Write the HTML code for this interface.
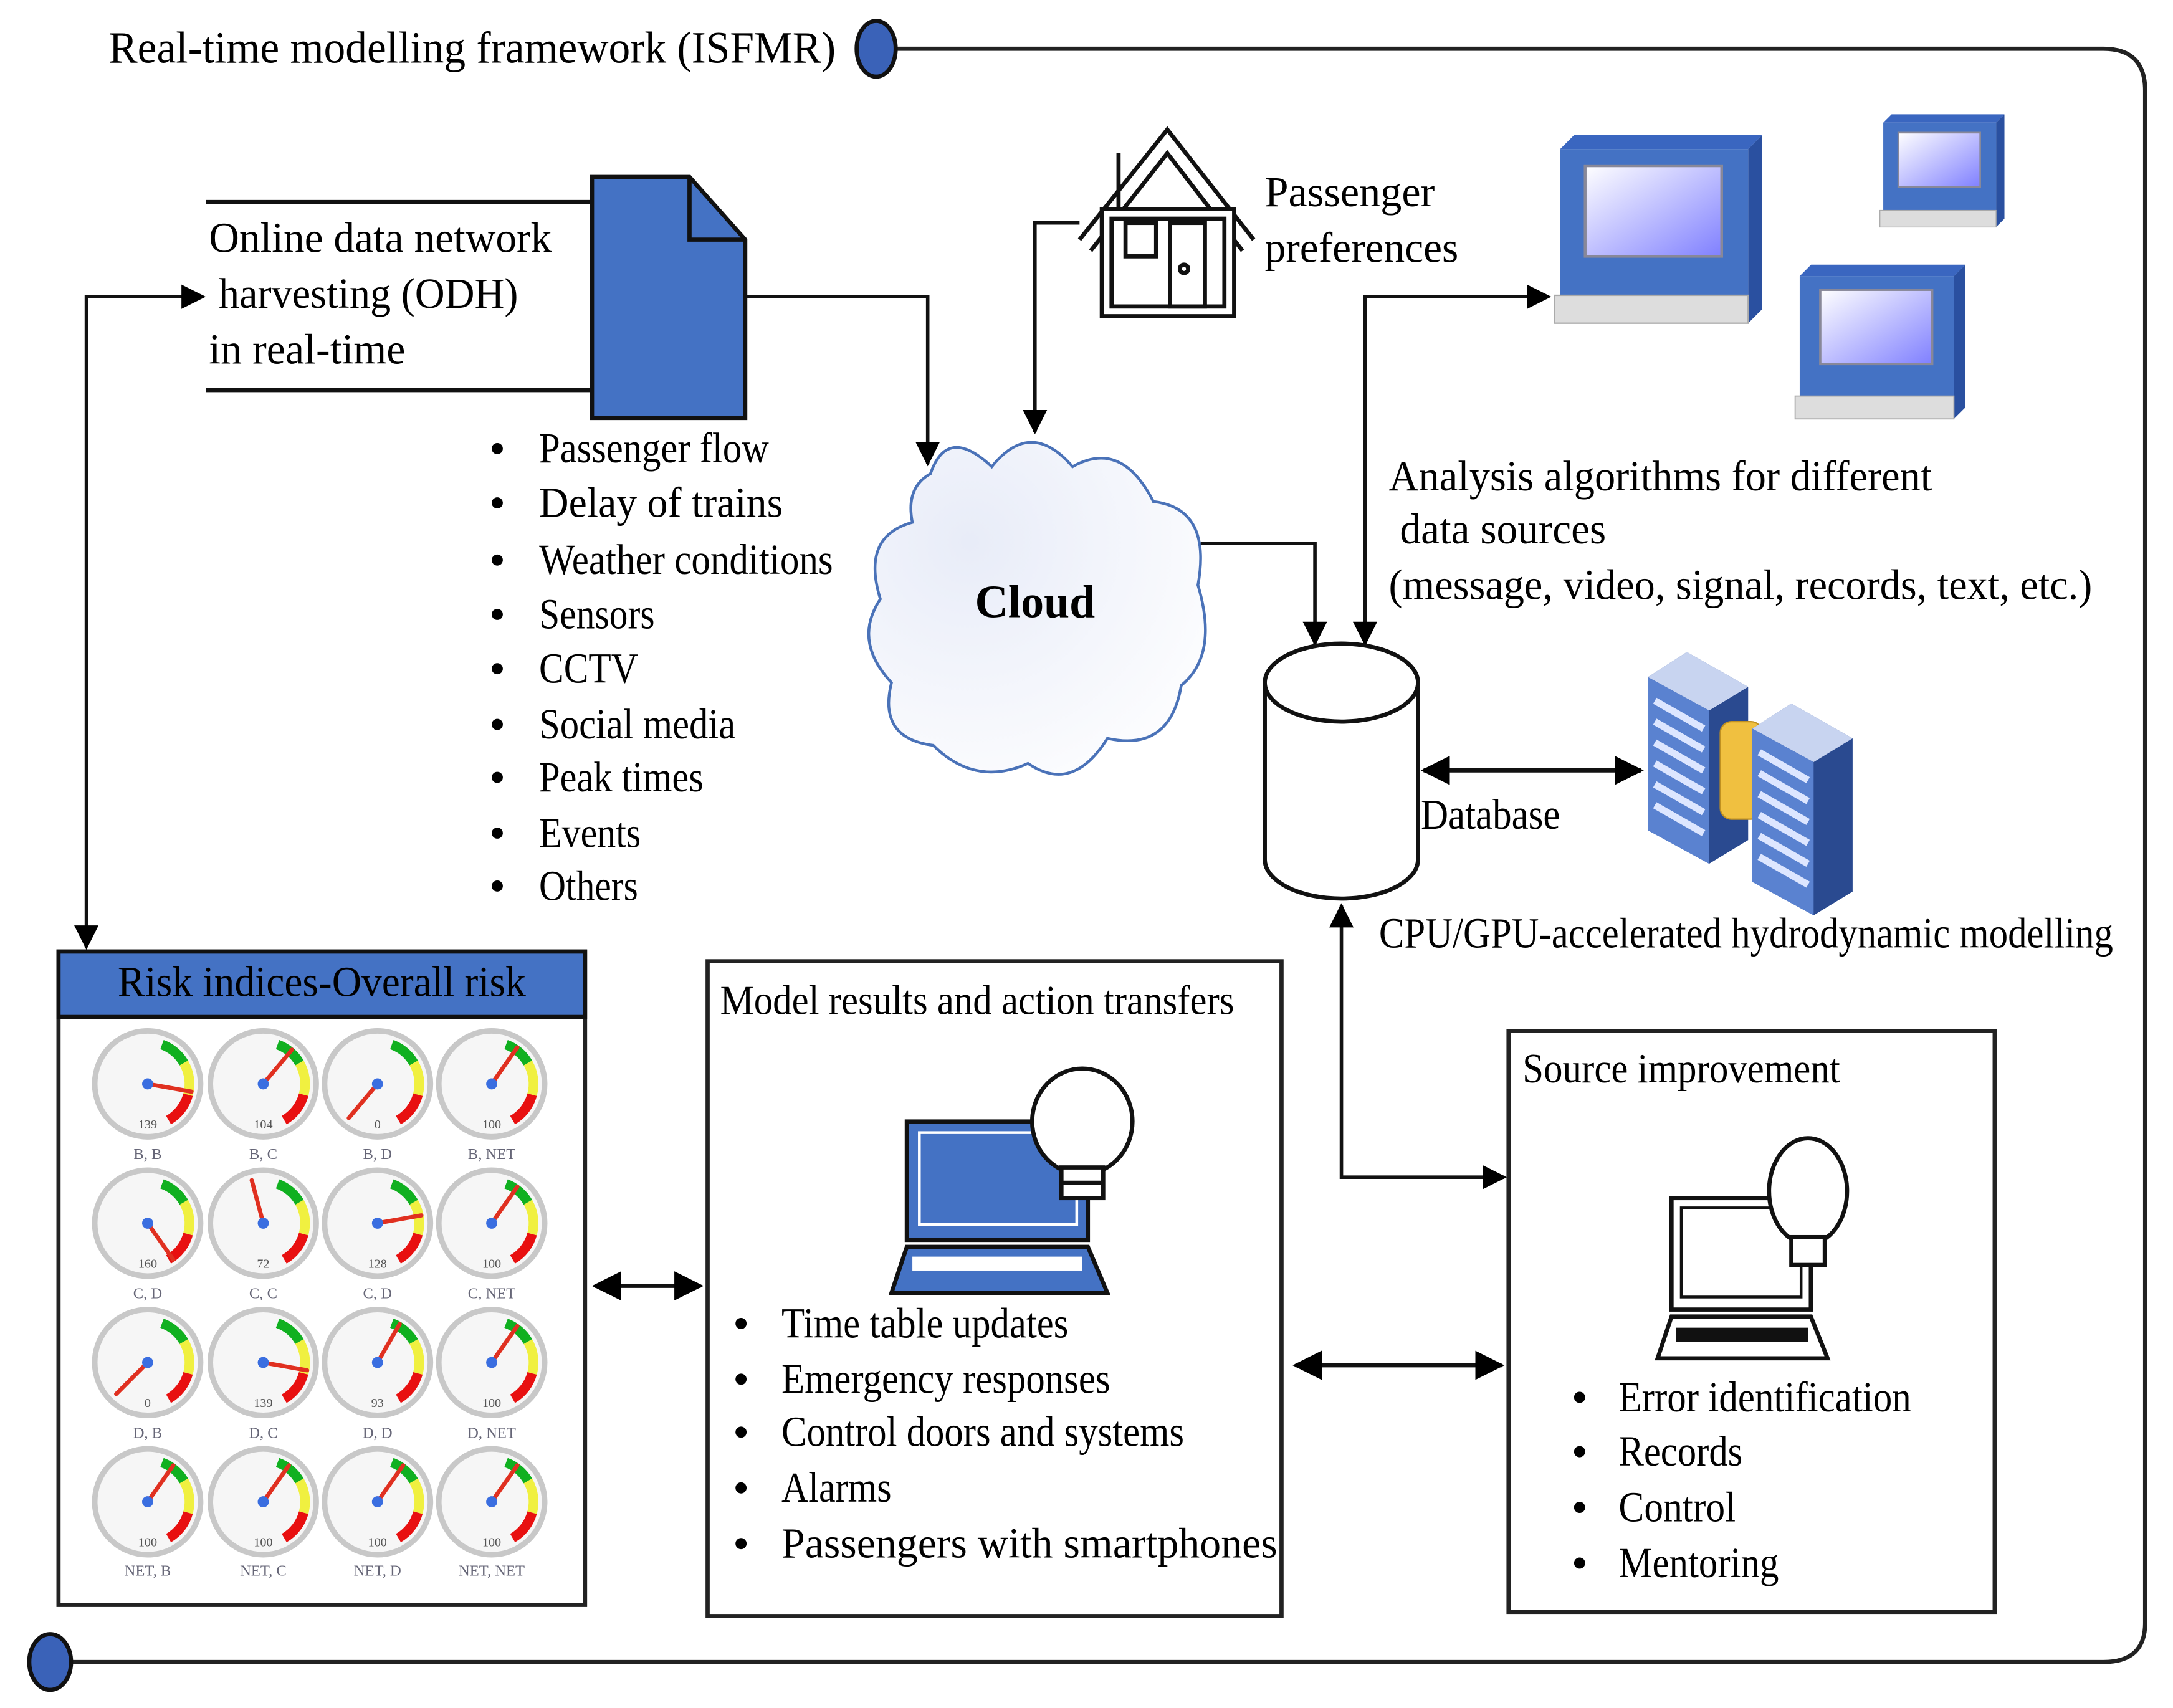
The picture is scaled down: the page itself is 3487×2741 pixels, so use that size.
<!DOCTYPE html>
<html><head><meta charset="utf-8"><style>html,body{margin:0;padding:0;background:#fff}svg{display:block}</style></head>
<body>
<svg width="3487" height="2741" viewBox="0 0 1560 1226" preserveAspectRatio="none" xmlns="http://www.w3.org/2000/svg" font-family="'Liberation Serif', 'DejaVu Serif', serif" fill="#000">
<defs>
<marker id="ah" viewBox="0 0 10 10" refX="9" refY="5" markerWidth="7" markerHeight="7" orient="auto-start-reverse"><path d="M0,0 L10,5 L0,10 z" fill="#000"/></marker>
<linearGradient id="scr" x1="0" y1="0" x2="1" y2="1"><stop offset="0" stop-color="#fff"/><stop offset="1" stop-color="#8080ff"/></linearGradient>
<radialGradient id="cl" cx="0.3" cy="0.3" r="0.9"><stop offset="0" stop-color="#e8ecf8"/><stop offset="1" stop-color="#fff"/></radialGradient>
<g id="gauge">
<circle r="38" fill="#f6f6f6" stroke="#c8c8c8" stroke-width="4"/>
<path d="M10.3,-28.2 A30,30 0 0 1 26,-15" fill="none" stroke="#10b020" stroke-width="7"/>
<path d="M26,-15 A30,30 0 0 1 29,7.8" fill="none" stroke="#f0f040" stroke-width="7"/>
<path d="M29,7.8 A30,30 0 0 1 15,26" fill="none" stroke="#e81010" stroke-width="7"/>
</g>
<g id="comp">
<polygon points="0,10 10,0 145,0 135,10" fill="#3a66c0"/>
<polygon points="135,10 145,0 145,125 135,135" fill="#2a50a0"/>
<rect x="0" y="10" width="135" height="105" fill="#4472c4"/>
<rect x="18" y="22" width="98" height="65" fill="url(#scr)" stroke="#889" stroke-width="2"/>
<rect x="-4" y="115" width="139" height="20" fill="#ddd" stroke="#aaa"/>
</g>
<g id="tower">
<polygon points="0,18 28,0 72,25 72,135 44,152 0,128" fill="#2a4a90"/>
<polygon points="0,18 28,0 72,25 44,42" fill="#c8d4f0"/>
<polygon points="0,18 44,42 44,152 0,128" fill="#5a82d0"/>
<path d="M5,35 L40,55 M5,50 L40,70 M5,65 L40,85 M5,80 L40,100 M5,95 L40,115 M5,110 L40,130" stroke="#dde6ff" stroke-width="5"/>
</g>
</defs>

<path d="M643,35 H1510 Q1540,35 1540,65 V1165 Q1540,1193 1510,1193 H50" fill="none" stroke="#222" stroke-width="3"/>
<ellipse cx="629" cy="35" rx="14" ry="20" fill="#3a62b8" stroke="#111" stroke-width="3"/>
<ellipse cx="36" cy="1193" rx="15" ry="20" fill="#3a62b8" stroke="#111" stroke-width="3"/>
<text x="78" y="45" font-size="32" textLength="522" lengthAdjust="spacingAndGlyphs">Real-time modelling framework (ISFMR)</text>

<line x1="148" y1="145" x2="425" y2="145" stroke="#111" stroke-width="3"/>
<line x1="148" y1="280" x2="425" y2="280" stroke="#111" stroke-width="3"/>
<polygon points="425,127 495,127 535,172 535,300 425,300" fill="#4472c4" stroke="#111" stroke-width="3"/>
<polyline points="495,127 495,172 535,172" fill="none" stroke="#111" stroke-width="3"/>
<text x="150" y="181" font-size="31" textLength="246" lengthAdjust="spacingAndGlyphs">Online data network</text>
<text x="157" y="221" font-size="31" textLength="215" lengthAdjust="spacingAndGlyphs">harvesting (ODH)</text>
<text x="150" y="261" font-size="31" textLength="141" lengthAdjust="spacingAndGlyphs">in real-time</text>

<polyline points="146,213 62,213 62,680" fill="none" stroke="#111" stroke-width="2.5" marker-start="url(#ah)" marker-end="url(#ah)"/>
<polyline points="535,213 666,213 666,333" fill="none" stroke="#111" stroke-width="2.5" marker-end="url(#ah)"/>

<g font-size="31">
<g fill="#000"><circle cx="357" cy="322" r="4"/><circle cx="357" cy="361" r="4"/><circle cx="357" cy="402" r="4"/><circle cx="357" cy="441" r="4"/><circle cx="357" cy="480" r="4"/><circle cx="357" cy="520" r="4"/><circle cx="357" cy="558" r="4"/><circle cx="357" cy="598" r="4"/><circle cx="357" cy="636" r="4"/></g>
<text x="387" y="332" textLength="165" lengthAdjust="spacingAndGlyphs">Passenger flow</text>
<text x="387" y="371" textLength="175" lengthAdjust="spacingAndGlyphs">Delay of trains</text>
<text x="387" y="412" textLength="211" lengthAdjust="spacingAndGlyphs">Weather conditions</text>
<text x="387" y="451" textLength="83" lengthAdjust="spacingAndGlyphs">Sensors</text>
<text x="387" y="490" textLength="71" lengthAdjust="spacingAndGlyphs">CCTV</text>
<text x="387" y="530" textLength="141" lengthAdjust="spacingAndGlyphs">Social media</text>
<text x="387" y="568" textLength="118" lengthAdjust="spacingAndGlyphs">Peak times</text>
<text x="387" y="608" textLength="73" lengthAdjust="spacingAndGlyphs">Events</text>
<text x="387" y="646" textLength="71" lengthAdjust="spacingAndGlyphs">Others</text>
</g>

<g fill="none" stroke="#111" stroke-width="3">
<polyline points="775,172 838,93 900,172"/>
<polyline points="783,180 838,110 892,180"/>
<line x1="803" y1="110" x2="803" y2="150"/>
<rect x="791" y="150" width="95" height="77" fill="#fff"/>
<rect x="798" y="157" width="81" height="63"/>
<rect x="808" y="160" width="22" height="24"/>
<rect x="840" y="160" width="25" height="60"/>
<circle cx="850" cy="193" r="3"/>
</g>
<polyline points="775,160 743,160 743,310" fill="none" stroke="#111" stroke-width="2.5" marker-end="url(#ah)"/>
<text x="908" y="148" font-size="31" textLength="122" lengthAdjust="spacingAndGlyphs">Passenger</text>
<text x="908" y="188" font-size="31" textLength="139" lengthAdjust="spacingAndGlyphs">preferences</text>

<path d="M668,340 Q680,305 712,335 Q740,300 770,335 Q805,315 828,360 Q870,365 860,420 Q875,470 848,492 Q840,540 795,530 Q770,570 738,548 Q700,565 670,535 Q630,530 640,490 Q612,460 632,430 Q618,385 655,375 Q650,350 668,340 Z" fill="url(#cl)" stroke="#4a72b8" stroke-width="2"/>
<text x="743" y="443" font-size="33" font-weight="bold" text-anchor="middle">Cloud</text>
<polyline points="862,390 944,390 944,462" fill="none" stroke="#111" stroke-width="2.5" marker-end="url(#ah)"/>

<use href="#comp" x="1120" y="97"/>
<use href="#comp" transform="translate(1352,82) scale(0.6)"/>
<use href="#comp" transform="translate(1292,190) scale(0.82)"/>
<polyline points="980,462 980,213 1112,213" fill="none" stroke="#111" stroke-width="2.5" marker-start="url(#ah)" marker-end="url(#ah)"/>
<text x="997" y="352" font-size="31" textLength="390" lengthAdjust="spacingAndGlyphs">Analysis algorithms for different</text>
<text x="1005" y="390" font-size="31" textLength="148" lengthAdjust="spacingAndGlyphs">data sources</text>
<text x="997" y="430" font-size="31" textLength="505" lengthAdjust="spacingAndGlyphs">(message, video, signal, records, text, etc.)</text>

<path d="M908,490 V617 A55,28 0 0 0 1018,617 V490" fill="#fff" stroke="#111" stroke-width="3"/>
<ellipse cx="963" cy="490" rx="55" ry="28" fill="#fff" stroke="#111" stroke-width="3"/>
<line x1="1022" y1="553" x2="1178" y2="553" stroke="#111" stroke-width="3" marker-start="url(#ah)" marker-end="url(#ah)"/>
<text x="1020" y="595" font-size="31" textLength="100" lengthAdjust="spacingAndGlyphs">Database</text>
<use href="#tower" x="1183" y="468"/>
<rect x="1235" y="518" width="30" height="70" rx="8" fill="#f0c040" stroke="#c09020"/>
<use href="#tower" x="1258" y="505"/>
<text x="990" y="680" font-size="31" textLength="527" lengthAdjust="spacingAndGlyphs">CPU/GPU-accelerated hydrodynamic modelling</text>
<polyline points="963,650 963,845 1080,845" fill="none" stroke="#111" stroke-width="2.5" marker-start="url(#ah)" marker-end="url(#ah)"/>

<rect x="42" y="683" width="378" height="469" fill="#fff" stroke="#222" stroke-width="3"/>
<rect x="42" y="683" width="378" height="47" fill="#4472c4" stroke="#111" stroke-width="3"/>
<text x="231" y="715" font-size="31" text-anchor="middle" textLength="293" lengthAdjust="spacingAndGlyphs">Risk indices-Overall risk</text>
<g>
<use href="#gauge" x="106" y="778"/><use href="#gauge" x="189" y="778"/><use href="#gauge" x="271" y="778"/><use href="#gauge" x="353" y="778"/>
<use href="#gauge" x="106" y="878"/><use href="#gauge" x="189" y="878"/><use href="#gauge" x="271" y="878"/><use href="#gauge" x="353" y="878"/>
<use href="#gauge" x="106" y="978"/><use href="#gauge" x="189" y="978"/><use href="#gauge" x="271" y="978"/><use href="#gauge" x="353" y="978"/>
<use href="#gauge" x="106" y="1078"/><use href="#gauge" x="189" y="1078"/><use href="#gauge" x="271" y="1078"/><use href="#gauge" x="353" y="1078"/>
</g>
<g stroke="#e03020" stroke-width="3" stroke-linecap="round">
<line x1="106" y1="778" x2="137.5" y2="783.6"/><line x1="189" y1="778" x2="209.6" y2="753.5"/><line x1="271" y1="778" x2="250.4" y2="802.5"/><line x1="353" y1="778" x2="371.4" y2="751.8"/>
<line x1="106" y1="878" x2="124.4" y2="904.2"/><line x1="189" y1="878" x2="180.7" y2="847.1"/><line x1="271" y1="878" x2="302.5" y2="872.4"/><line x1="353" y1="878" x2="371.4" y2="851.8"/>
<line x1="106" y1="978" x2="83.4" y2="1000.6"/><line x1="189" y1="978" x2="220.5" y2="983.6"/><line x1="271" y1="978" x2="287" y2="950.3"/><line x1="353" y1="978" x2="371.4" y2="951.8"/>
<line x1="106" y1="1078" x2="124.4" y2="1051.8"/><line x1="189" y1="1078" x2="207.4" y2="1051.8"/><line x1="271" y1="1078" x2="289.4" y2="1051.8"/><line x1="353" y1="1078" x2="371.4" y2="1051.8"/>
</g>
<g fill="#3a6ee0">
<circle cx="106" cy="778" r="4"/><circle cx="189" cy="778" r="4"/><circle cx="271" cy="778" r="4"/><circle cx="353" cy="778" r="4"/>
<circle cx="106" cy="878" r="4"/><circle cx="189" cy="878" r="4"/><circle cx="271" cy="878" r="4"/><circle cx="353" cy="878" r="4"/>
<circle cx="106" cy="978" r="4"/><circle cx="189" cy="978" r="4"/><circle cx="271" cy="978" r="4"/><circle cx="353" cy="978" r="4"/>
<circle cx="106" cy="1078" r="4"/><circle cx="189" cy="1078" r="4"/><circle cx="271" cy="1078" r="4"/><circle cx="353" cy="1078" r="4"/>
</g>
<g font-size="9" text-anchor="middle" fill="#555">
<text x="106" y="810">139</text><text x="189" y="810">104</text><text x="271" y="810">0</text><text x="353" y="810">100</text>
<text x="106" y="910">160</text><text x="189" y="910">72</text><text x="271" y="910">128</text><text x="353" y="910">100</text>
<text x="106" y="1010">0</text><text x="189" y="1010">139</text><text x="271" y="1010">93</text><text x="353" y="1010">100</text>
<text x="106" y="1110">100</text><text x="189" y="1110">100</text><text x="271" y="1110">100</text><text x="353" y="1110">100</text>
</g>
<g font-size="11" text-anchor="middle" fill="#667">
<text x="106" y="832">B, B</text><text x="189" y="832">B, C</text><text x="271" y="832">B, D</text><text x="353" y="832">B, NET</text>
<text x="106" y="932">C, D</text><text x="189" y="932">C, C</text><text x="271" y="932">C, D</text><text x="353" y="932">C, NET</text>
<text x="106" y="1032">D, B</text><text x="189" y="1032">D, C</text><text x="271" y="1032">D, D</text><text x="353" y="1032">D, NET</text>
<text x="106" y="1131">NET, B</text><text x="189" y="1131">NET, C</text><text x="271" y="1131">NET, D</text><text x="353" y="1131">NET, NET</text>
</g>
<line x1="427" y1="923" x2="503" y2="923" stroke="#111" stroke-width="3" marker-start="url(#ah)" marker-end="url(#ah)"/>

<rect x="508" y="690" width="412" height="470" fill="#fff" stroke="#222" stroke-width="3"/>
<text x="517" y="728" font-size="30" textLength="369" lengthAdjust="spacingAndGlyphs">Model results and action transfers</text>
<rect x="651" y="805" width="130" height="85" fill="#4472c4" stroke="#111" stroke-width="3"/>
<rect x="660" y="813" width="113" height="66" fill="none" stroke="#fff" stroke-width="2"/>
<polygon points="651,895 781,895 795,928 640,928" fill="#4472c4" stroke="#111" stroke-width="3"/>
<rect x="655" y="902" width="122" height="10" fill="#fff"/>
<ellipse cx="777" cy="805" rx="36" ry="38" fill="#fff" stroke="#111" stroke-width="3"/>
<rect x="762" y="838" width="30" height="22" fill="#fff" stroke="#111" stroke-width="3"/>
<line x1="762" y1="849" x2="792" y2="849" stroke="#111" stroke-width="3"/>
<g fill="#000"><circle cx="532" cy="950" r="4"/><circle cx="532" cy="990" r="4"/><circle cx="532" cy="1028" r="4"/><circle cx="532" cy="1068" r="4"/><circle cx="532" cy="1108" r="4"/></g>
<g font-size="31">
<text x="561" y="960" textLength="206" lengthAdjust="spacingAndGlyphs">Time table updates</text>
<text x="561" y="1000" textLength="236" lengthAdjust="spacingAndGlyphs">Emergency responses</text>
<text x="561" y="1038" textLength="289" lengthAdjust="spacingAndGlyphs">Control doors and systems</text>
<text x="561" y="1078" textLength="79" lengthAdjust="spacingAndGlyphs">Alarms</text>
<text x="561" y="1118" textLength="356" lengthAdjust="spacingAndGlyphs">Passengers with smartphones</text>
</g>
<line x1="930" y1="980" x2="1078" y2="980" stroke="#111" stroke-width="3" marker-start="url(#ah)" marker-end="url(#ah)"/>

<rect x="1083" y="740" width="349" height="417" fill="#fff" stroke="#222" stroke-width="3"/>
<text x="1093" y="777" font-size="30" textLength="228" lengthAdjust="spacingAndGlyphs">Source improvement</text>
<rect x="1200" y="860" width="100" height="80" fill="#fff" stroke="#111" stroke-width="3"/>
<rect x="1207" y="867" width="86" height="64" fill="none" stroke="#111" stroke-width="2"/>
<polygon points="1200,945 1300,945 1312,975 1190,975" fill="#fff" stroke="#111" stroke-width="3"/>
<rect x="1203" y="953" width="95" height="10" fill="#111"/>
<ellipse cx="1298" cy="855" rx="28" ry="38" fill="#fff" stroke="#111" stroke-width="3"/>
<rect x="1286" y="888" width="24" height="20" fill="#fff" stroke="#111" stroke-width="3"/>
<g fill="#000"><circle cx="1134" cy="1003" r="4"/><circle cx="1134" cy="1042" r="4"/><circle cx="1134" cy="1082" r="4"/><circle cx="1134" cy="1122" r="4"/></g>
<g font-size="31">
<text x="1162" y="1013" textLength="210" lengthAdjust="spacingAndGlyphs">Error identification</text>
<text x="1162" y="1052" textLength="89" lengthAdjust="spacingAndGlyphs">Records</text>
<text x="1162" y="1092" textLength="84" lengthAdjust="spacingAndGlyphs">Control</text>
<text x="1162" y="1132" textLength="115" lengthAdjust="spacingAndGlyphs">Mentoring</text>
</g>
</svg>
</body></html>
